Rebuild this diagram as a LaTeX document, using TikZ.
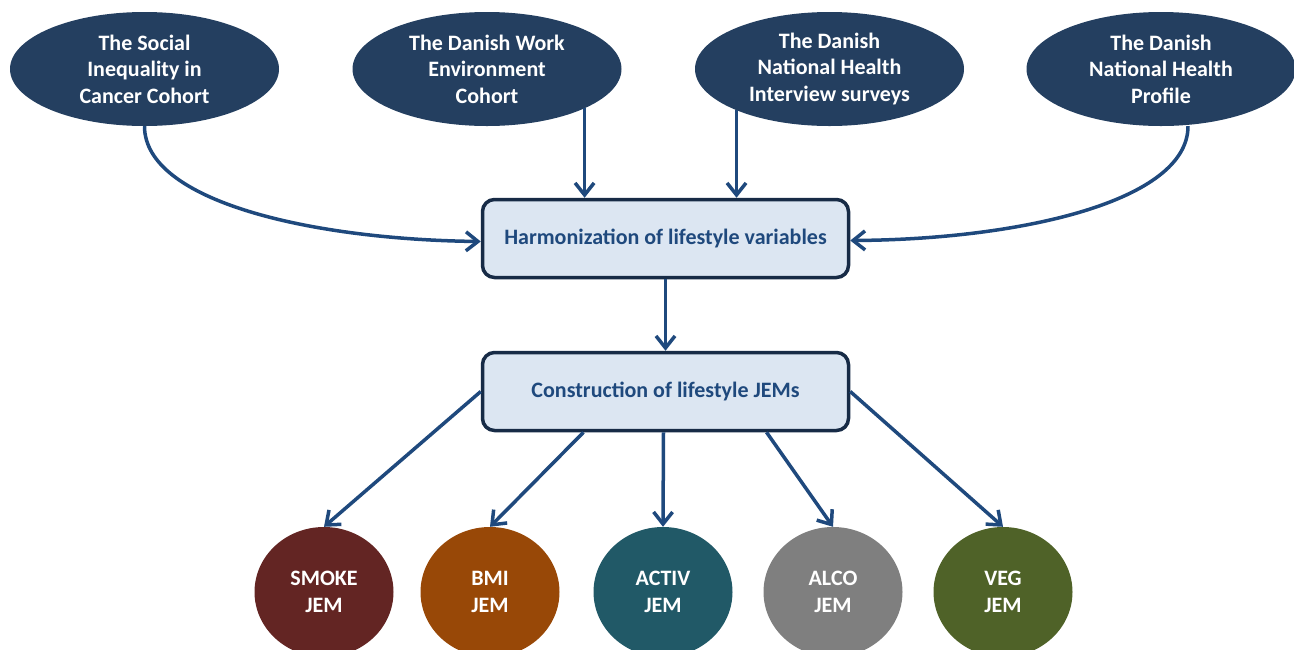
\documentclass[tikz,border=0pt]{standalone}
\usepackage{fontspec}
\setmainfont{Carlito}
\usetikzlibrary{shapes.geometric,arrows.meta}
\definecolor{navy}{HTML}{243F60}
\definecolor{arrowblue}{HTML}{1F497D}
\definecolor{boxfill}{HTML}{DCE6F2}
\definecolor{boxborder}{HTML}{172B46}
\definecolor{boxtext}{HTML}{1F497D}
\definecolor{smokec}{HTML}{632523}
\definecolor{bmic}{HTML}{984807}
\definecolor{activc}{HTML}{215967}
\definecolor{alcoc}{HTML}{7F7F7F}
\definecolor{vegc}{HTML}{4F6228}
\tikzset{
  source/.style={ellipse, fill=navy, minimum width=269pt, minimum height=114pt, inner sep=0pt,
    text=white, align=center, font=\fontsize{22pt}{26.5pt}\selectfont\bfseries},
  stagebox/.style={rectangle, rounded corners=12pt, draw=boxborder, line width=3.5pt, fill=boxfill,
    minimum width=366pt, minimum height=78pt, text=boxtext, font=\fontsize{22pt}{26pt}\selectfont\bfseries},
  jem/.style={ellipse, minimum width=139pt, minimum height=130pt, inner sep=0pt,
    text=white, align=center, font=\fontsize{22pt}{27pt}\selectfont\bfseries},
  arr/.style={draw=arrowblue, line width=3.5pt, -{Straight Barb[length=12pt,width=19pt]}}
}
\begin{document}
\begin{tikzpicture}[x=1pt,y=-1pt]
\useasboundingbox (0,0) rectangle (1294,649);
\node[source] (e1) at (144.5,69) {The Social\\Inequality in\\Cancer Cohort};
\node[source] (e2) at (487,69) {The Danish Work\\Environment\\Cohort};
\node[source] (e3) at (829.5,69) {The Danish\\National Health\\Interview surveys};
\node[source] (e4) at (1161,69) {The Danish\\National Health\\Profile};
\node[stagebox] (h) at (665.5,238.5) {Harmonization of lifestyle variables};
\node[stagebox] (c) at (665.5,391.5) {Construction of lifestyle JEMs};
\node[jem, fill=smokec] (s1) at (324,592) {SMOKE\\JEM};
\node[jem, fill=bmic] (s2) at (490,592) {BMI\\JEM};
\node[jem, fill=activc] (s3) at (663,592) {ACTIV\\JEM};
\node[jem, fill=alcoc] (s4) at (833,592) {ALCO\\JEM};
\node[jem, fill=vegc] (s5) at (1003,592) {VEG\\JEM};
\draw[arr] (e1.south) .. controls ([yshift=-75pt]e1.south) and ([xshift=-170pt,yshift=-1pt]h.west) .. ([yshift=-3pt]h.west);
\draw[arr] (e2.-22.6) -- (e2.-22.6 |- h.north);
\draw[arr] (e3.-156.3) -- (e3.-156.3 |- h.north);
\draw[arr] ([xshift=27pt]e4.south) .. controls ([xshift=27pt,yshift=-75pt]e4.south) and ([xshift=170pt,yshift=-1pt]h.east) .. ([yshift=-2pt]h.east);
\draw[arr] (h.south) -- (c.north);
\draw[arr] (c.west) -- (s1.north);
\draw[arr] ([xshift=-82pt]c.south) -- (s2.north);
\draw[arr] ([xshift=-2pt]c.south) -- (s3.north);
\draw[arr] ([xshift=101pt]c.south) -- (s4.north);
\draw[arr] (c.east) -- (s5.north);
\end{tikzpicture}
\end{document}
